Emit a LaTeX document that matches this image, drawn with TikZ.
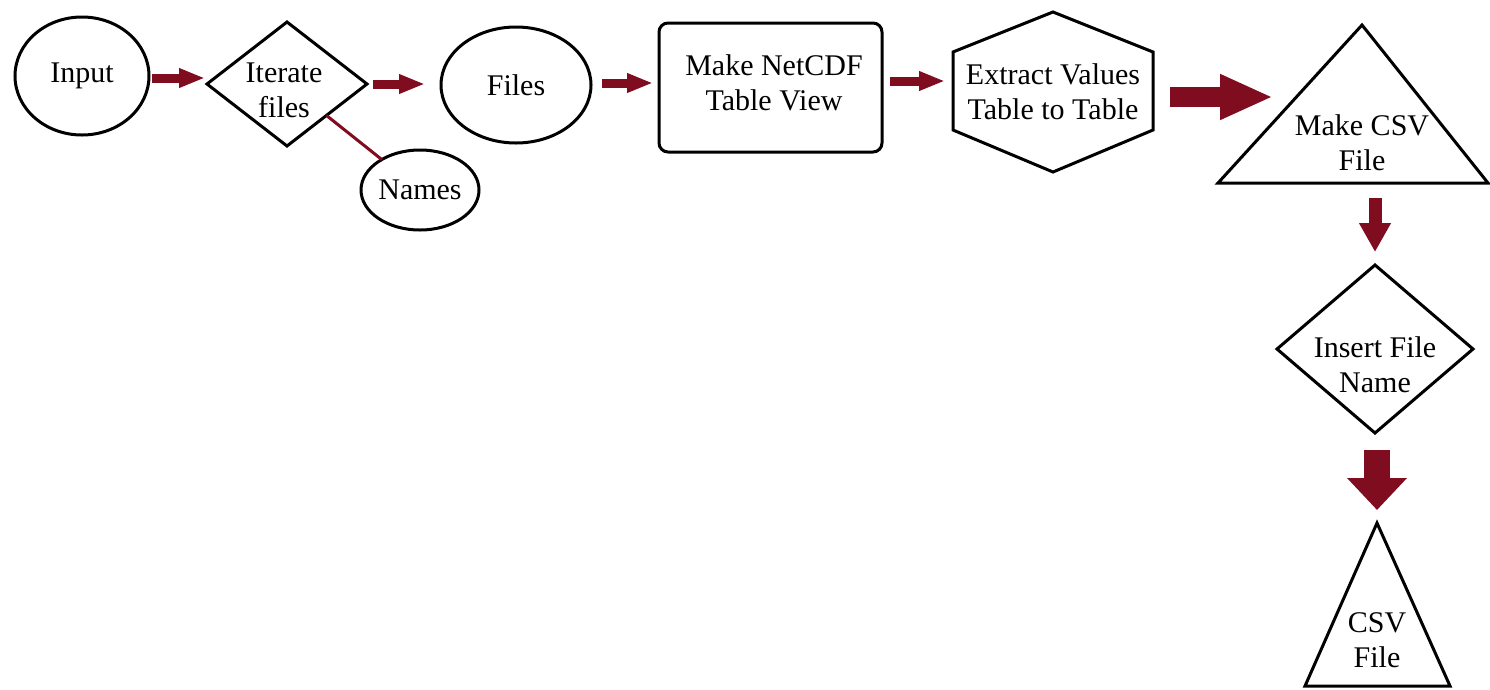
\documentclass[tikz,border=0pt]{standalone}
\usepackage{fontspec}
\setmainfont{Liberation Serif}
\usetikzlibrary{shapes.geometric,arrows.meta,calc}
\definecolor{arrred}{RGB}{128,12,32}
\begin{document}
\begin{tikzpicture}[x=1pt,y=-1pt,
  every node/.style={font=\fontsize{30}{35}\selectfont, align=center, inner sep=0pt, outer sep=0pt},
  shp/.style={draw=black, line width=3pt},
  ell/.style={shp, ellipse},
  dia/.style={shp, diamond},
  arrS/.style={draw=arrred, line width=9pt, -{Triangle[length=26pt,width=18pt]}},
  arrL/.style={draw=arrred, line width=20pt, -{Triangle[length=53pt,width=42pt]}},
  arrD/.style={draw=arrred, line width=13pt, -{Triangle[length=29pt,width=30pt]}},
  arrDL/.style={draw=arrred, line width=26pt, -{Triangle[length=32pt,width=58pt]}},
  link/.style={draw=arrred, line width=3pt}
]
\useasboundingbox (0,0) rectangle (1490,689);

% nodes
\node[ell, minimum width=134pt, minimum height=118pt] (input) at (82,76) {Input};
\node[dia, minimum width=160pt, minimum height=124pt] (iter) at (287,84) {};
\node (iterT) at (284,90) {Iterate\\files};
\node[ell, minimum width=118pt, minimum height=80pt] (names) at (420,190) {Names};
\node[ell, minimum width=150pt, minimum height=116pt] (files) at (516,85) {Files};
\node[shp, rectangle, rounded corners=9pt, minimum width=223pt, minimum height=129pt] (make) at (770.5,87.5) {};
\node (makeT) at (774,83) {Make NetCDF\\Table View};
\node[minimum width=200pt, minimum height=160pt] (ext) at (1053,92) {Extract Values\\Table to Table};
\draw[shp] (ext.north) -- ([yshift=-40pt]ext.north east) -- ([yshift=42pt]ext.south east)
  -- (ext.south) -- ([yshift=42pt]ext.south west) -- ([yshift=-40pt]ext.north west) -- cycle;

\coordinate (mA) at (1362,25);
\coordinate (mL) at (1218,183);
\coordinate (mR) at (1488,183);
\coordinate (mLmid) at ($(mA)!0.5!(mL)$);
\draw[shp] (mA) -- (mR) -- (mL) -- cycle;
\node (mcsv) at (1362,143) {Make CSV\\File};

\node[dia, minimum width=196pt, minimum height=168pt] (ins) at (1375,349) {};
\node (insT) at (1375,365) {Insert File\\Name};

\coordinate (cA) at (1377,523);
\coordinate (cL) at (1305,686);
\coordinate (cR) at (1450,686);
\draw[shp] (cA) -- (cR) -- (cL) -- cycle;
\node (csvT) at (1377,640) {CSV\\File};

% connectors
\draw[link] (iter) -- (names);
\draw[arrS] ([xshift=3pt]input.east |- 0,78) -- ([xshift=-2pt]iter.west |- 0,78);
\draw[arrS] ([xshift=6pt]iter.east |- 0,84) -- ([xshift=-16pt]files.west |- 0,84);
\draw[arrS] ([xshift=11pt]files.east |- 0,83) -- ([xshift=-6pt]make.west |- 0,83);
\draw[arrS] ([xshift=8pt]make.east |- 0,81) -- ([xshift=-8pt]ext.west |- 0,81);
\draw[arrL] ([xshift=17pt]ext.east |- 0,97) -- ([xshift=-17pt]mLmid |- 0,97);
\draw[arrD] ([yshift=-15pt]ins.north |- mL) -- ([yshift=13pt]ins.north);
\draw[arrDL] ([yshift=-17pt]ins.south -| cA) -- ([yshift=13pt]cA);
\end{tikzpicture}
\end{document}
